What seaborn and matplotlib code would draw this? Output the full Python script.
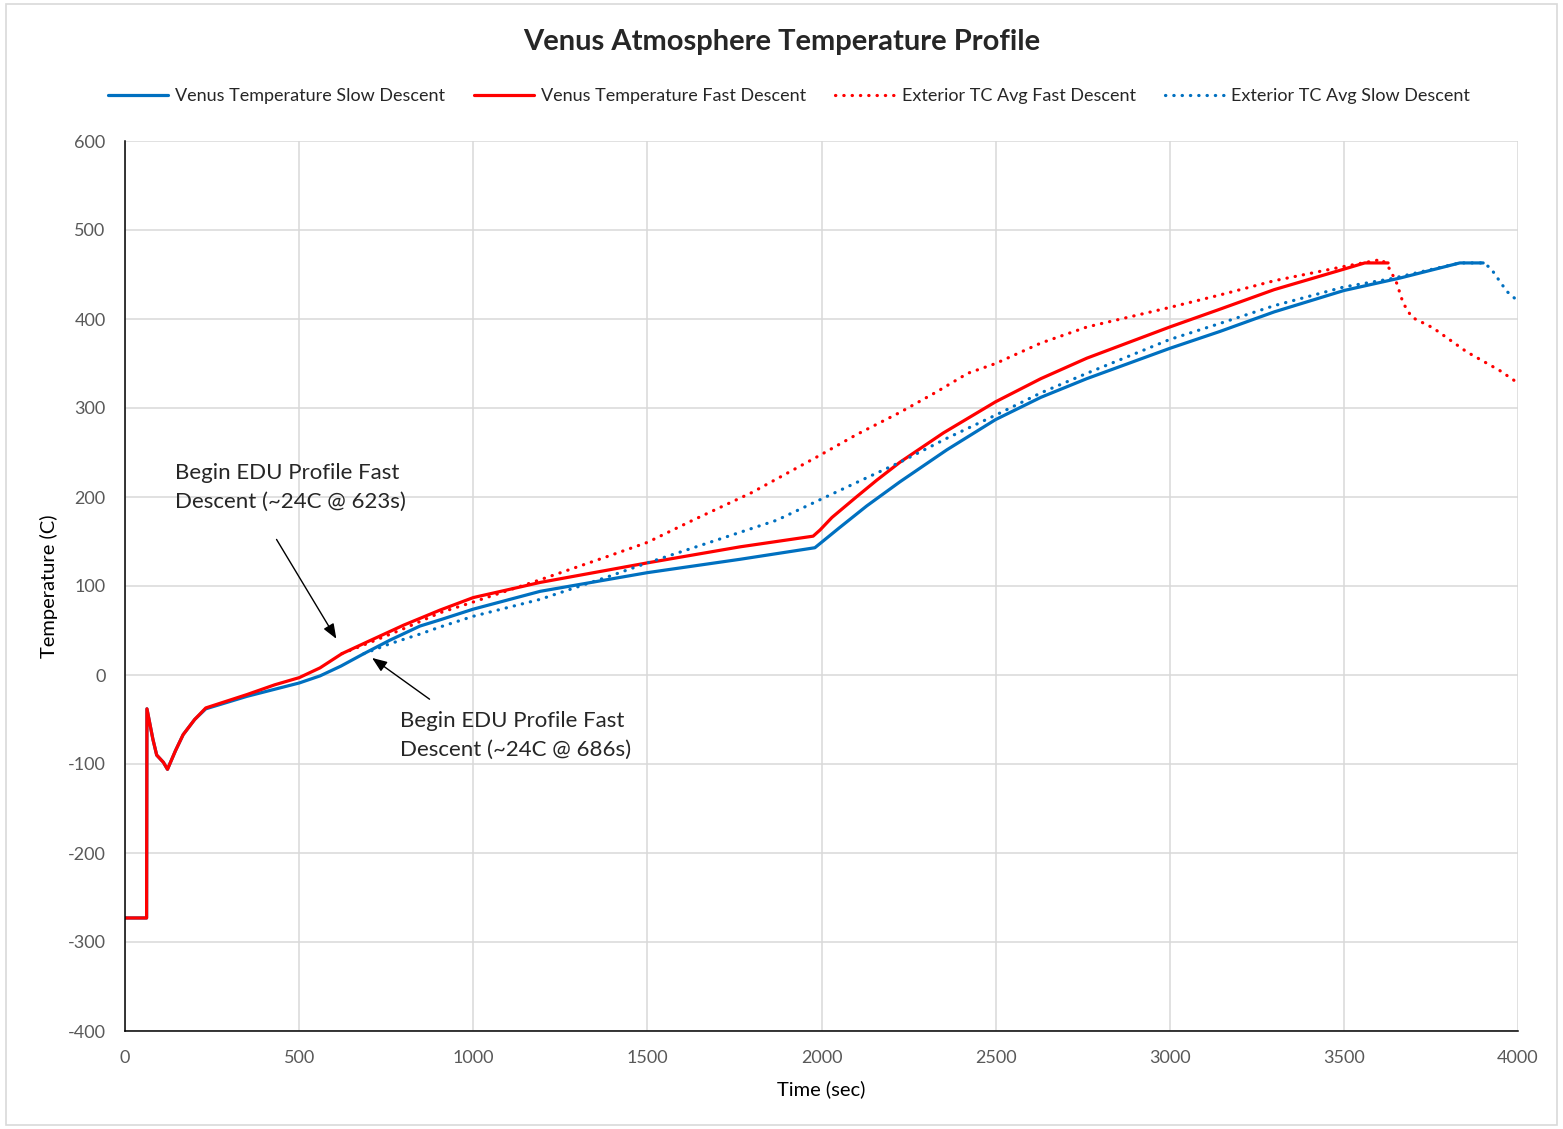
import matplotlib
matplotlib.use("Agg")
import matplotlib.pyplot as plt
import matplotlib.patches as patches
import seaborn as sns

# ---------------- data ----------------
slow_t = [0, 62, 63, 80, 91, 110, 122, 145, 167, 200, 232, 350, 460, 500, 560, 620, 686, 760, 847,
          905, 1000, 1192, 1500, 1766, 1981, 2050, 2130, 2225, 2360, 2500, 2630, 2762, 3000, 3144,
          3300, 3500, 3661, 3833, 3900]
slow_T = [-273, -273, -38, -72, -90, -98, -106, -85, -67, -50, -38, -24, -13, -9, -1, 10, 24, 39, 55,
          62, 74, 94, 115, 130, 143, 165, 190, 217, 253, 287, 312, 333, 367, 386,
          408, 432, 446, 463, 463]

fast_t = [0, 62, 63, 80, 91, 110, 122, 145, 167, 200, 232, 350, 430, 500, 560, 623, 700, 800, 905,
          1000, 1192, 1500, 1766, 1976, 1996, 2030, 2100, 2159, 2225, 2350, 2500, 2630, 2762, 3000,
          3144, 3300, 3500, 3560, 3627]
fast_T = [-273, -273, -38, -72, -90, -98, -106, -85, -67, -50, -37, -22, -11, -3, 8, 24, 38, 56, 73,
          87, 104, 126, 144, 156, 163, 177, 200, 219, 239, 272, 307, 333, 356, 391,
          411, 433, 456, 463, 463]

ext_fast_t = [623, 700, 800, 905, 1000, 1192, 1384, 1500, 1631, 1800, 1996, 2100, 2225, 2330, 2420,
              2500, 2630, 2762, 3000, 3144, 3300, 3500, 3609, 3632, 3652, 3670, 3695, 3756, 3853,
              3948, 4000]
ext_fast_T = [24, 36, 52, 70, 82, 107, 133, 149, 174, 205, 247, 270, 295, 318, 339,
              350, 373, 391, 413, 427, 443, 459, 467, 456, 440, 418, 402, 390, 363,
              342, 328]

ext_slow_t = [686, 760, 847, 905, 1000, 1192, 1384, 1500, 1671, 1872, 1996, 2110, 2225, 2360, 2500,
              2630, 2762, 3000, 3144, 3300, 3500, 3632, 3833, 3896, 3920, 3943, 3968, 4000]
ext_slow_T = [24, 35, 46, 54, 66, 85, 110, 126, 148, 174, 197, 218, 239, 266, 292,
              317, 339, 377, 395, 415, 436, 445, 463, 463, 458, 445, 431, 420]

series_labels = ["Venus Temperature Slow Descent", "Venus Temperature Fast Descent",
                 "Exterior TC Avg Fast Descent", "Exterior TC Avg Slow Descent"]

x_ticks = [0, 500, 1000, 1500, 2000, 2500, 3000, 3500, 4000]
y_ticks = [-400, -300, -200, -100, 0, 100, 200, 300, 400, 500, 600]

title = "Venus Atmosphere Temperature Profile"
x_label = "Time (sec)"
y_label = "Temperature (C)"
note1 = "Begin EDU Profile Fast\nDescent (~24C @ 623s)"
note2 = "Begin EDU Profile Fast\nDescent (~24C @ 686s)"

# ---------------- style ----------------
sns.set_style("white")
plt.rcParams['font.family'] = ['Lato', 'DejaVu Sans']
plt.rcParams['axes.unicode_minus'] = False

BLUE = "#0070C0"
RED = "#FF0000"
GRID = "#D9D9D9"
TXT = "#595959"

fig = plt.figure(figsize=(15.63, 11.29), dpi=100)
ax = fig.add_axes([125/1563, 1 - 1031/1129, (1518-125)/1563, (1031-141)/1129])

LW = 2.3
dot = (0, (0.1, 2.5))

sns.lineplot(x=slow_t, y=slow_T, ax=ax, color=BLUE, lw=LW, sort=False, estimator=None,
             label=series_labels[0])
sns.lineplot(x=fast_t, y=fast_T, ax=ax, color=RED, lw=LW, sort=False, estimator=None,
             label=series_labels[1])
sns.lineplot(x=ext_fast_t, y=ext_fast_T, ax=ax, color=RED, lw=LW, sort=False, estimator=None,
             label=series_labels[2], linestyle=dot, dash_capstyle='round')
sns.lineplot(x=ext_slow_t, y=ext_slow_T, ax=ax, color=BLUE, lw=LW, sort=False, estimator=None,
             label=series_labels[3], linestyle=dot, dash_capstyle='round')

ax.set_xlim(0, 4000)
ax.set_ylim(-400, 600)
ax.set_xticks(x_ticks)
ax.set_yticks(y_ticks)
ax.grid(True, color=GRID, lw=1.1)
ax.set_axisbelow(True)
for s in ["top", "right"]:
    ax.spines[s].set_visible(False)
for s in ["left", "bottom"]:
    ax.spines[s].set_color("#000000")
    ax.spines[s].set_linewidth(1.1)
ax.tick_params(axis='both', length=0, labelsize=13, labelcolor=TXT)
ax.tick_params(axis='y', pad=14)
ax.tick_params(axis='x', pad=14)

ax.set_xlabel(x_label, fontsize=14.5, color="#000000", labelpad=10)
ax.set_ylabel(y_label, fontsize=14.5, color="#000000", labelpad=7)

# annotations
ax.text(143, 238, note1, fontsize=16, va='top', ha='left', linespacing=1.55)
ax.text(790, -41, note2, fontsize=16, va='top', ha='left', linespacing=1.55)
ax.annotate("", xy=(611, 38), xytext=(431, 155),
            arrowprops=dict(arrowstyle='-|>,head_length=0.9,head_width=0.35', color='black', lw=1))
ax.annotate("", xy=(703, 21), xytext=(881, -29),
            arrowprops=dict(arrowstyle='-|>,head_length=0.9,head_width=0.35', color='black', lw=1))

# legend
handles, labels = ax.get_legend_handles_labels()
ax.get_legend().remove()
fig.legend(handles, labels, loc='center', bbox_to_anchor=(0.505, 1 - 96/1129), ncol=4,
           frameon=False, fontsize=13, handlelength=3.3, handletextpad=0.4, columnspacing=1.6)

fig.suptitle(title, fontsize=21, fontweight='bold', y=1 - 42/1129, va='center')

# figure border
fig.patches.append(patches.Rectangle((6/1563, 4/1129), 1551/1563, 1121/1129, transform=fig.transFigure,
                                     fill=False, edgecolor=GRID, lw=1.2))

fig.savefig("out.png", dpi=100, facecolor='white')
